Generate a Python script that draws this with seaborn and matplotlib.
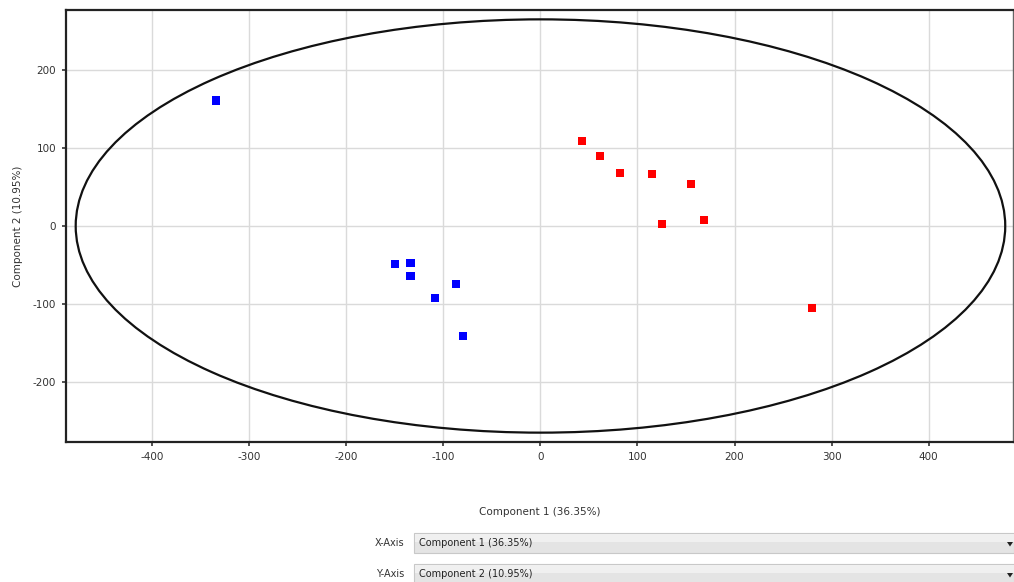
import numpy as np
import pandas as pd
import matplotlib
matplotlib.use("Agg")
import matplotlib.pyplot as plt
import seaborn as sns
from matplotlib.patches import Ellipse, Rectangle, Polygon

# Data
group_a_x = [-334, -150, -134, -134, -109, -87, -80]
group_a_y = [161, -49, -47, -64, -92, -74, -141]
group_b_x = [43, 61, 82, 115, 155, 169, 125, 280]
group_b_y = [109, 90, 68, 67, 54, 8, 3, -105]
x_ticks = [-400, -300, -200, -100, 0, 100, 200, 300, 400]
y_ticks = [-200, -100, 0, 100, 200]
x_label = "Component 1 (36.35%)"
y_label = "Component 2 (10.95%)"
ellipse_w = 958
ellipse_h = 530

df = pd.DataFrame({
    "x": group_a_x + group_b_x,
    "y": group_a_y + group_b_y,
    "group": ["A"] * len(group_a_x) + ["B"] * len(group_b_x),
})

sns.set_style("white")
plt.rcParams["font.family"] = ["DejaVu Sans"]
plt.rcParams["axes.unicode_minus"] = False

fig = plt.figure(figsize=(10.14, 5.82), dpi=100)
ax = fig.add_axes([66 / 1014, 1 - 442 / 582, (1013 - 66) / 1014, (442 - 10) / 582])

ax.grid(True, color="#dadada", linewidth=1.0, zorder=0)
ax.set_axisbelow(True)

ell = Ellipse((0, 0), ellipse_w, ellipse_h, fill=False, edgecolor="#111111", linewidth=1.6, zorder=2)
ax.add_patch(ell)

sns.scatterplot(data=df, x="x", y="y", hue="group", palette={"A": "#0000ff", "B": "#ff0000"},
                marker="s", s=34, edgecolor="none", legend=False, ax=ax, zorder=3)

ax.set_xlim(-489, 487)
ax.set_ylim(-277, 277)
ax.set_xticks(x_ticks)
ax.set_yticks(y_ticks)
ax.tick_params(axis="both", labelsize=7.5, colors="#333333", length=3, width=1.2, direction="out",
               bottom=True, left=True, pad=4)
for t in ax.get_xticklabels() + ax.get_yticklabels():
    t.set_color("#333333")
ax.set_xlabel("")
ax.set_ylabel("")
fig.text(18 / 1014, 1 - 226 / 582, y_label, fontsize=7.5, color="#333333", ha="center", va="center",
         rotation=90)
for side in ["left", "bottom", "top", "right"]:
    ax.spines[side].set_color("#222222")
    ax.spines[side].set_linewidth(1.6)
ax.spines["right"].set_linewidth(1.0)
ax.spines["right"].set_color("#666666")

# X axis label placed lower like reference
fig.text(540 / 1014, 1 - 512 / 582, x_label, fontsize=7.5, color="#333333", ha="center", va="center")

# Dropdown widgets
for i, (lab, val) in enumerate([("X-Axis", x_label), ("Y-Axis", y_label)]):
    yc = 543 + i * 31
    y0 = 1 - (yc + 10) / 582
    h = 20 / 582
    fig.patches.append(Rectangle((414 / 1014, y0), (1014 - 414) / 1014, h, transform=fig.transFigure,
                                 facecolor="#e4e4e4", edgecolor="#c8c8c8", linewidth=0.8))
    fig.patches.append(Rectangle((415 / 1014, y0 + h * 0.55), (1014 - 415) / 1014, h * 0.42,
                                 transform=fig.transFigure, facecolor="#f0f0f0", edgecolor="none"))
    fig.text(404 / 1014, 1 - yc / 582, lab, fontsize=7, color="#333333", ha="right", va="center")
    fig.text(419 / 1014, 1 - yc / 582, val, fontsize=7, color="#222222", ha="left", va="center")
    tx, ty = 1010 / 1014, 1 - (yc + 1) / 582
    fig.patches.append(Polygon([[tx - 3 / 1014, ty + 2 / 582], [tx + 3 / 1014, ty + 2 / 582],
                                [tx, ty - 2.5 / 582]], closed=True, transform=fig.transFigure,
                               facecolor="#222222", edgecolor="none"))

fig.savefig("out.png", dpi=100)
